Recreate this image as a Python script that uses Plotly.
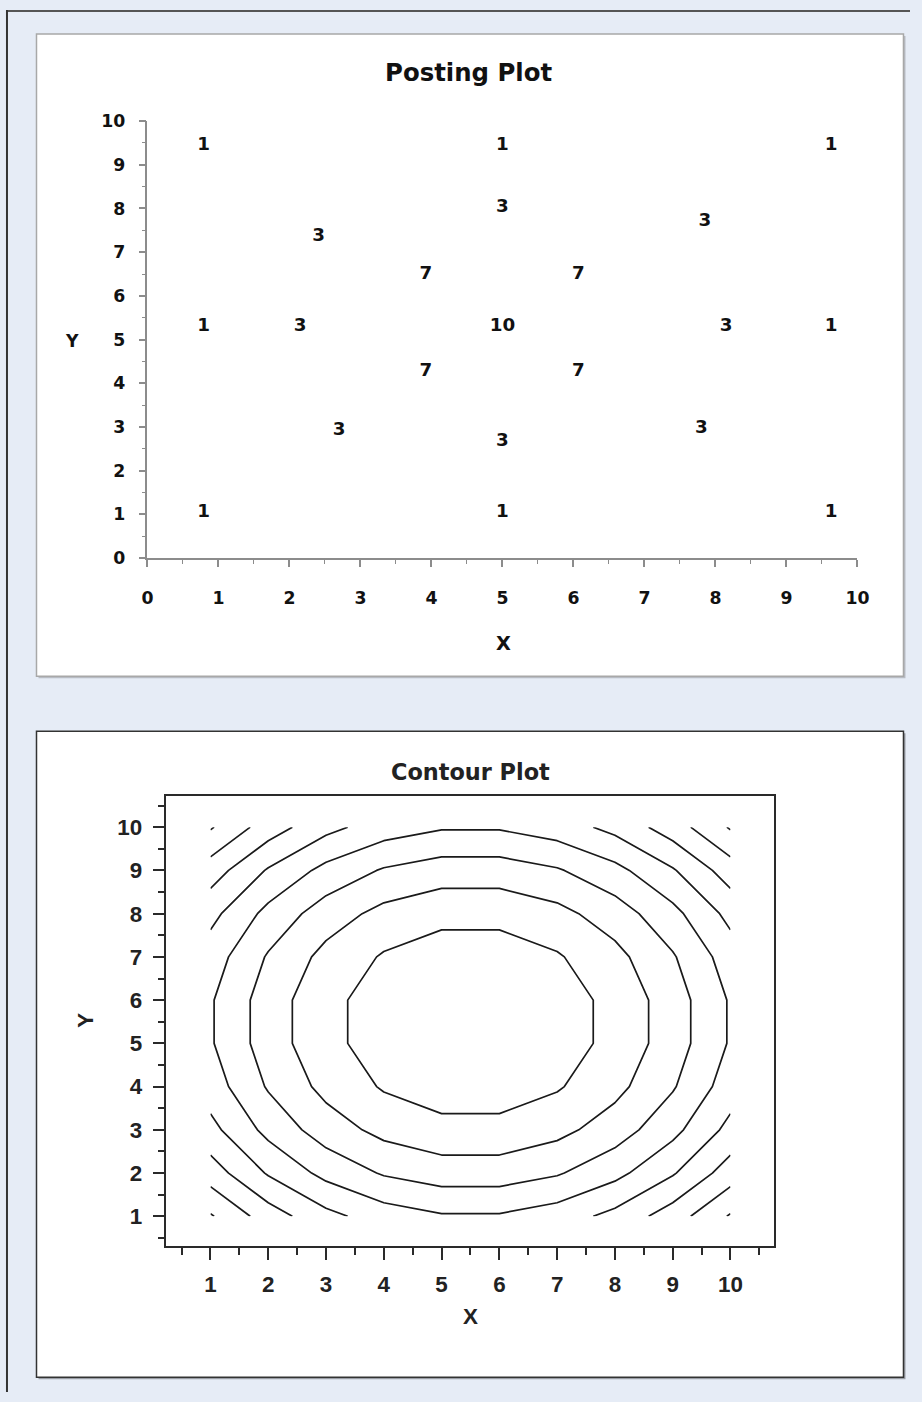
import plotly.graph_objects as go

# ---------------- data ----------------
post_x = [0.79, 5.0, 9.63, 5.0, 2.41, 7.85, 3.92, 6.07, 0.79, 2.15, 5.0, 8.15, 9.63,
          3.92, 6.07, 2.70, 5.0, 7.80, 0.79, 5.0, 9.63]
post_y = [9.45, 9.45, 9.45, 8.03, 7.37, 7.71, 6.50, 6.50, 5.29, 5.29, 5.29, 5.29, 5.29,
          4.28, 4.28, 2.93, 2.68, 2.97, 1.05, 1.05, 1.05]
post_labels = ["1", "1", "1", "3", "3", "3", "7", "7", "1", "3", "10", "3", "1",
               "7", "7", "3", "3", "3", "1", "1", "1"]

grid_x = [1, 2, 3, 4, 5, 6, 7, 8, 9, 10]
grid_y = [1, 2, 3, 4, 5, 6, 7, 8, 9, 10]
grid_z = [
    [40.5, 32.5, 26.5, 22.5, 20.5, 20.5, 22.5, 26.5, 32.5, 40.5],
    [32.5, 24.5, 18.5, 14.5, 12.5, 12.5, 14.5, 18.5, 24.5, 32.5],
    [26.5, 18.5, 12.5,  8.5,  6.5,  6.5,  8.5, 12.5, 18.5, 26.5],
    [22.5, 14.5,  8.5,  4.5,  2.5,  2.5,  4.5,  8.5, 14.5, 22.5],
    [20.5, 12.5,  6.5,  2.5,  0.5,  0.5,  2.5,  6.5, 12.5, 20.5],
    [20.5, 12.5,  6.5,  2.5,  0.5,  0.5,  2.5,  6.5, 12.5, 20.5],
    [22.5, 14.5,  8.5,  4.5,  2.5,  2.5,  4.5,  8.5, 14.5, 22.5],
    [26.5, 18.5, 12.5,  8.5,  6.5,  6.5,  8.5, 12.5, 18.5, 26.5],
    [32.5, 24.5, 18.5, 14.5, 12.5, 12.5, 14.5, 18.5, 24.5, 32.5],
    [40.5, 32.5, 26.5, 22.5, 20.5, 20.5, 22.5, 26.5, 32.5, 40.5],
]
contour_start, contour_end, contour_step = 5, 40, 5

top_ticks = [0, 1, 2, 3, 4, 5, 6, 7, 8, 9, 10]
bot_ticks = [1, 2, 3, 4, 5, 6, 7, 8, 9, 10]

# ---------------- layout helpers ----------------
W, H = 922, 1402
# positions are given in picture pixels; the captured picture is slightly
# reduced and offset with respect to the page, so map picture -> page
SX, CX = 0.9805, 5.5
SY, CY = 0.9855, 10.0
K = 1 / 0.983  # size compensation
def px(r):
    return ((r - CX) / SX) / W
def py(r):
    return 1 - ((r - CY) / SY) / H
def fs(s):
    return round(s * K, 1)

F1 = "DejaVu Sans"
F2 = "Liberation Sans"
BG = "#e6ecf6"

fig = go.Figure()

fig.add_trace(go.Scatter(
    x=post_x, y=post_y, text=post_labels, mode="text",
    textfont=dict(family=F1, size=fs(18), color="#111111", weight="bold"),
    xaxis="x", yaxis="y", cliponaxis=False, hoverinfo="skip", showlegend=False))

fig.add_trace(go.Contour(
    x=grid_x, y=grid_y, z=grid_z,
    contours=dict(coloring="none", start=contour_start, end=contour_end, size=contour_step),
    line=dict(color="#1a1a1a", width=1.7, smoothing=0),
    showscale=False, hoverinfo="skip",
    xaxis="x2", yaxis="y2"))

shapes = []
# outer frame
shapes.append(dict(type="line", xref="paper", yref="paper", x0=0, x1=1, y0=1 - 1 / H, y1=1 - 1 / H,
                   line=dict(color="#555555", width=2)))
shapes.append(dict(type="line", xref="paper", yref="paper", x0=1 / W, x1=1 / W, y0=0, y1=1,
                   line=dict(color="#333333", width=2)))
# top panel shadow + panel
shapes.append(dict(type="rect", xref="paper", yref="paper", x0=px(38), x1=px(905), y0=py(678), y1=py(36),
                   line=dict(width=0), fillcolor="#b8bcc4", layer="below"))
shapes.append(dict(type="rect", xref="paper", yref="paper", x0=px(36), x1=px(903), y0=py(676), y1=py(34),
                   line=dict(color="#a8a8a8", width=1.5), fillcolor="white", layer="below"))
# bottom panel shadow + panel
shapes.append(dict(type="rect", xref="paper", yref="paper", x0=px(38), x1=px(905), y0=py(1379), y1=py(733),
                   line=dict(width=0), fillcolor="#9a9ea6", layer="below"))
shapes.append(dict(type="rect", xref="paper", yref="paper", x0=px(36), x1=px(903), y0=py(1377), y1=py(731),
                   line=dict(color="#333333", width=1.5), fillcolor="white", layer="below"))

annotations = [
    dict(text="<b>Posting Plot</b>", x=px(468), y=py(72), xref="paper", yref="paper",
         showarrow=False, font=dict(family=F1, size=fs(24), color="#111111"), xanchor="center", yanchor="middle"),
    dict(text="<b>Y</b>", x=px(72), y=py(341), xref="paper", yref="paper",
         showarrow=False, font=dict(family=F1, size=fs(17), color="#111111"), xanchor="center", yanchor="middle"),
    dict(text="<b>X</b>", x=px(503), y=py(643), xref="paper", yref="paper",
         showarrow=False, font=dict(family=F1, size=fs(19), color="#111111"), xanchor="center", yanchor="middle"),
    dict(text="<b>Contour Plot</b>", x=px(470), y=py(772), xref="paper", yref="paper",
         showarrow=False, font=dict(family=F1, size=fs(22), color="#222222"), xanchor="center", yanchor="middle"),
    dict(text="<b>X</b>", x=px(470), y=py(1316), xref="paper", yref="paper",
         showarrow=False, font=dict(family=F2, size=fs(22), color="#222222"), xanchor="center", yanchor="middle"),
    dict(text="<b>Y</b>", x=px(85), y=py(1020), xref="paper", yref="paper", textangle=-90,
         showarrow=False, font=dict(family=F2, size=fs(22), color="#222222"), xanchor="center", yanchor="middle"),
]

top_axis = dict(showgrid=False, zeroline=False, showline=True, linecolor="#8c8c8c", linewidth=1.5,
                ticks="outside", tickcolor="#8c8c8c", tickwidth=1.5, ticklen=7,
                tickfont=dict(family=F1, size=fs(17), color="#111111", weight="bold"),
                minor=dict(ticks="outside", dtick=0.5, ticklen=4, tickcolor="#8c8c8c", tickwidth=1.2),
                fixedrange=True)
bot_axis = dict(showgrid=False, zeroline=False, showline=True, mirror=True, linecolor="#2a2a2a", linewidth=1.8,
                ticks="outside", tickcolor="#2a2a2a", tickwidth=1.8, ticklen=12,
                tickfont=dict(family=F2, size=fs(22), color="#222222", weight="bold"),
                minor=dict(ticks="outside", dtick=0.5, ticklen=7, tickcolor="#2a2a2a", tickwidth=1.5),
                fixedrange=True)

fig.update_layout(
    width=W, height=H, autosize=False, margin=dict(l=0, r=0, t=0, b=0),
    paper_bgcolor=BG, plot_bgcolor="rgba(0,0,0,0)",
    showlegend=False, shapes=shapes, annotations=annotations,
    xaxis=dict(top_axis, domain=[px(147), px(857)], range=[0, 10], tickvals=top_ticks,
               anchor="y", ticklabelstandoff=16),
    yaxis=dict(top_axis, domain=[py(558), py(121)], range=[0, 10], tickvals=top_ticks,
               anchor="x", ticklabelstandoff=10),
    xaxis2=dict(bot_axis, domain=[px(166), px(774)], range=[0.2385, 10.762], tickvals=bot_ticks,
                anchor="y2", ticklabelstandoff=5),
    yaxis2=dict(bot_axis, domain=[py(1246), py(796)], range=[0.306, 10.717], tickvals=bot_ticks,
                anchor="x2", ticklabelstandoff=6),
)

fig.write_html("out.html", config={"responsive": False, "displayModeBar": False},
               post_script="document.body.style.margin='0';document.body.style.overflow='hidden';"
                           "document.body.style.background='#e6ecf6';")
